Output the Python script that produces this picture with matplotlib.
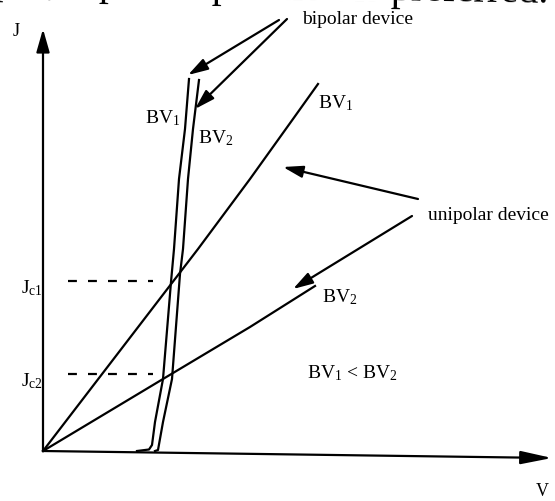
"""
Sketch of current density J vs voltage V for bipolar and unipolar devices
with two breakdown voltages (BV1 < BV2).

Output:
- out.png
"""

import matplotlib.pyplot as plt

plt.rcParams["font.family"] = ["Liberation Serif", "DejaVu Serif"]
plt.rcParams["mathtext.fontset"] = "custom"
plt.rcParams["mathtext.rm"] = "Liberation Serif"
plt.rcParams["mathtext.it"] = "Liberation Serif"

OUTPUT_FIGURE = "out.png"

# axis units are arbitrary
V_MIN, V_MAX = -4.3, 51.2
J_MIN, J_MAX = -5.0, 45.2

# unipolar device curves
uni_bv1_v = [0, 15.5, 20.7, 25.0, 27.5]
uni_bv1_j = [0, 20.2, 27.2, 33.2, 36.7]
uni_bv2_v = [0, 12.0, 20.7, 27.2]
uni_bv2_j = [0, 7.2, 12.4, 16.5]

# bipolar device curves
bip_bv1_v = [9.4, 10.6, 10.9, 11.2, 12.0, 12.8, 13.1, 13.6, 14.2, 14.6]
bip_bv1_j = [0.0, 0.15, 0.6, 2.9, 7.2, 16.9, 20.2, 27.2, 32.2, 37.2]
bip_bv2_v = [11.2, 11.5, 12.0, 12.9, 13.7, 14.0, 14.5, 15.0, 15.6]
bip_bv2_j = [0.0, 0.1, 2.9, 7.2, 17.7, 20.2, 27.2, 32.2, 37.1]

# critical current densities (dashed guides)
jc_levels = [17.0, 7.7]
jc_labels = ["J$_{c1}$", "J$_{c2}$"]
jc_v_start, jc_v_end = 2.5, 11.0

# arrows: (tail v, tail j, head v, head j)
pointer_arrows = [
    (23.6, 43.1, 14.5, 37.6),
    (24.4, 43.2, 15.2, 34.2),
    (37.5, 25.2, 24.0, 28.4),
    (36.9, 23.5, 25.0, 16.2),
]


def arrow(ax, tail, head, length=0.6, width=0.18):
    ax.annotate(
        "",
        xy=head,
        xytext=tail,
        arrowprops=dict(
            arrowstyle=f"-|>,head_length={length},head_width={width}",
            color="black",
            lw=1.6,
            shrinkA=0,
            shrinkB=0,
            mutation_scale=20,
        ),
    )


def main():
    fig = plt.figure(figsize=(5.55, 5.02), dpi=100)
    ax = fig.add_axes([0, 0, 1, 1])
    ax.set_xlim(V_MIN, V_MAX)
    ax.set_ylim(J_MIN, J_MAX)
    ax.axis("off")

    # axes drawn as arrows
    arrow(ax, (0, 0), (0, 42.2), length=0.7, width=0.2)
    arrow(ax, (0, 0), (50.9, -0.7), length=0.95, width=0.2)
    ax.text(-2.7, 42.1, "J", fontsize=13, ha="center", va="center")
    ax.text(49.9, -4.0, "V", fontsize=13, ha="center", va="center")

    lw = 1.6
    ax.plot(uni_bv1_v, uni_bv1_j, color="black", lw=lw)
    ax.plot(uni_bv2_v, uni_bv2_j, color="black", lw=lw)
    ax.plot(bip_bv1_v, bip_bv1_j, color="black", lw=lw)
    ax.plot(bip_bv2_v, bip_bv2_j, color="black", lw=lw)

    for level, label in zip(jc_levels, jc_labels):
        ax.plot([jc_v_start, jc_v_end], [level, level], color="black",
                lw=1.6, dashes=(4, 5))
        ax.text(0.0, level - 0.6, label, fontsize=14, ha="right", va="center")

    for tv, tj, hv, hj in pointer_arrows:
        arrow(ax, (tv, tj), (hv, hj))

    fs = 14
    ax.text(13.7, 33.4, "BV$_1$", fontsize=fs, ha="right", va="center")
    ax.text(15.5, 31.4, "BV$_2$", fontsize=fs, ha="left", va="center")
    ax.text(27.5, 34.9, "BV$_1$", fontsize=fs, ha="left", va="center")
    ax.text(27.9, 15.5, "BV$_2$", fontsize=fs, ha="left", va="center")
    ax.text(38.5, 23.7, "unipolar device", fontsize=fs, ha="left", va="center")
    ax.text(25.9, 43.2, "bipolar device", fontsize=fs, ha="left", va="center")
    ax.text(26.4, 7.9, "BV$_1$ < BV$_2$", fontsize=fs, ha="left", va="center")

    # bottom of a line of page text cut off by the scan
    ax.text(50.5, 44.95, "ing of the high-voltage types, bipolar operation is preferred.",
            fontsize=29, ha="right", va="baseline", rotation=-1.0,
            rotation_mode="anchor")

    fig.savefig(OUTPUT_FIGURE, dpi=100)
    plt.close(fig)


if __name__ == "__main__":
    main()
